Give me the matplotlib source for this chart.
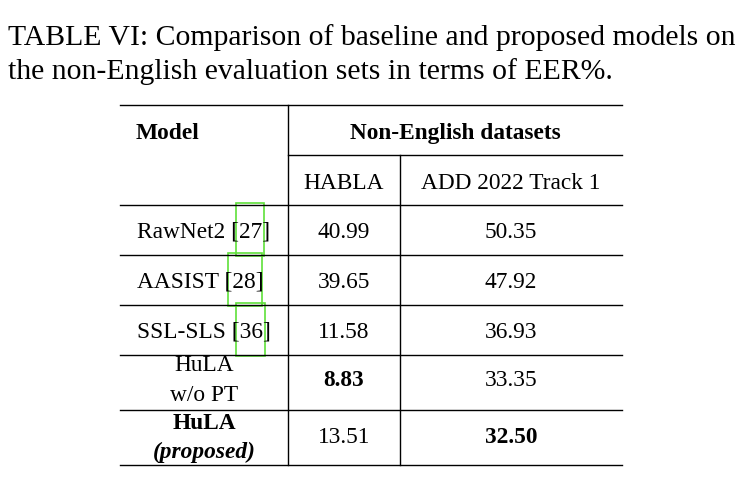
import matplotlib
matplotlib.use("Agg")
import matplotlib.pyplot as plt
from matplotlib.patches import Rectangle

title_lines = ["TABLE VI: Comparison of baseline and proposed models on",
               "the non-English evaluation sets in terms of EER%."]
models = ["RawNet2 [27]", "AASIST [28]", "SSL-SLS [36]", "HuLA\nw/o PT", "HuLA\n(proposed)"]
habla = ["40.99", "39.65", "11.58", "8.83", "13.51"]
add22 = ["50.35", "47.92", "36.93", "33.35", "32.50"]
bold_habla = [False, False, False, True, False]
bold_add = [False, False, False, False, True]

plt.rcParams['font.family'] = ['Liberation Serif', 'DejaVu Serif']
fig = plt.figure(figsize=(7.46, 4.86), dpi=100)
ax = fig.add_axes([0, 0, 1, 1])
ax.set_xlim(0, 746); ax.set_ylim(486, 0); ax.axis('off')

ax.text(8, 38, title_lines[0], fontsize=21.4, va='center', ha='left')
ax.text(8, 72, title_lines[1], fontsize=21.4, va='center', ha='left')

lw = 1.0
for y in [105, 205, 255, 305, 355, 410, 465]:
    ax.plot([120, 622], [y, y], color='black', lw=lw)
ax.plot([288, 622], [155, 155], color='black', lw=lw)
ax.plot([288, 288], [105, 465], color='black', lw=lw)
ax.plot([400, 400], [155, 465], color='black', lw=lw)

fs = 16.8
ax.text(136, 133, "Model", fontsize=fs, weight='bold', va='center', ha='left')
ax.text(455, 133, "Non-English datasets", fontsize=fs, weight='bold', va='center', ha='center')
ax.text(344, 183, "HABLA", fontsize=fs, va='center', ha='center')
ax.text(511, 183, "ADD 2022 Track 1", fontsize=fs, va='center', ha='center')

ys = [232, 282, 332, 380, 437]
for i, (m, h, a) in enumerate(zip(models, habla, add22)):
    y = ys[i]
    if i < 3:
        ax.text(137, y, m, fontsize=fs, va='center', ha='left')
    elif i == 3:
        ax.text(204, y - 15, "HuLA", fontsize=fs, va='center', ha='center')
        ax.text(204, y + 15, "w/o PT", fontsize=fs, va='center', ha='center')
    else:
        ax.text(204, y - 14, "HuLA", fontsize=fs, weight='bold', va='center', ha='center')
        ax.text(204, y + 15, "(proposed)", fontsize=fs, weight='bold', style='italic', va='center', ha='center')
    ax.text(344, y, h, fontsize=fs, va='center', ha='center', weight='bold' if bold_habla[i] else 'normal')
    ax.text(511, y, a, fontsize=fs, va='center', ha='center', weight='bold' if bold_add[i] else 'normal')

for x0, x1, y0 in [(236, 264, 203), (228, 262, 253), (236, 265, 303)]:
    ax.add_patch(Rectangle((x0, y0), x1 - x0, 53, fill=False, edgecolor='#5fe03a', lw=1.2))

fig.savefig("out.png", dpi=100)
